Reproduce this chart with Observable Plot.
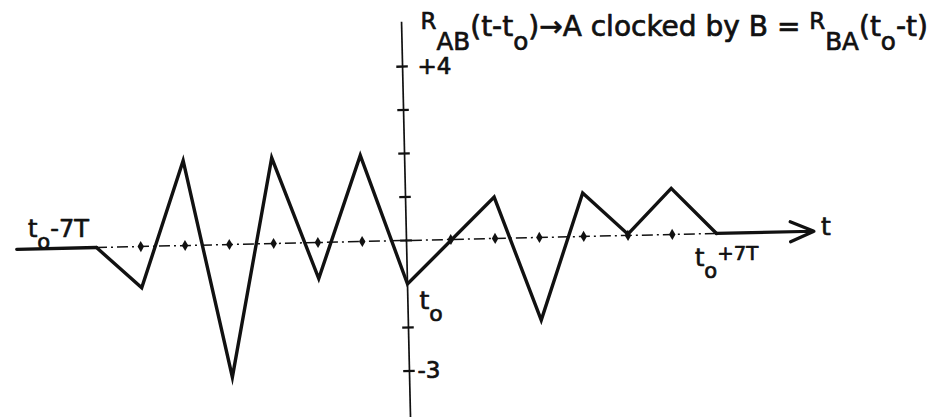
<!DOCTYPE html>
<html>
<head>
<meta charset="utf-8">
<script src="https://cdn.jsdelivr.net/npm/d3@7"></script>
<script src="https://cdn.jsdelivr.net/npm/@observablehq/plot@0.6"></script>
<style>
  html, body { margin: 0; padding: 0; background: #fff; }
  #chart svg { display: block; }
</style>
</head>
<body>
<div id="chart"></div>
<script>
// ---- data (lags in units of T relative to t_o, correlation values) ----
const lags = [-7, -6, -5, -4, -3, -2, -1, 0, 2, 3, 4, 5, 6, 7];
const corr = [0, -0.95, 1.95, -3.05, 1.97, -0.83, 1.98, -1.0, 0.95, -1.9, 1.0, 0.03, 1.06, 0];
const lagTicks = [-6, -5, -4, -3, -2, -1, 1, 2, 3, 4, 5, 6];
const valueTicks = [4, 3, 2, 1, 0, -2, -3];
const valueLabelValues = [4, -3];
const valueLabelTexts = ["+4", "-3"];
const lagExtent = [-8.8, 9.2];
const titleText = "^{R}_{AB}(t-t_{o})→A clocked by B = ^{R}_{BA}(t_{o}-t)";
const lagStartLabel = "t_{o}-7T";
const lagEndLabel = "t_{o}^{+7T}";
const originLabel = "t_{o}";
const axisName = "t";

const textStyle = { fill: "#111", stroke: "#111", strokeWidth: 0.7 };

const plot = Plot.plot({
  width: 946,
  height: 417,
  marginTop: 0, marginRight: 0, marginBottom: 0, marginLeft: 0,
  x: { domain: [-406 / 44.3, 540 / 44.3], axis: null },
  y: { domain: [-(417 - 240) / 43.5, 240 / 43.5], axis: null },
  style: { background: "#fff", color: "#111", fontFamily: "DejaVu Sans, sans-serif", overflow: "visible" },
  marks: [
    // vertical axis
    Plot.ruleX([0], { y1: -4.3, y2: 5.02, stroke: "#111", strokeWidth: 1.7 }),
    Plot.ruleY(valueTicks, { x1: -0.13, x2: 0.13, stroke: "#111", strokeWidth: 2.4 }),
    // horizontal dash-dot axis
    Plot.ruleY([0], { x1: lags[0], x2: lags[lags.length - 1], stroke: "#111", strokeWidth: 1.5, strokeDasharray: "11,4,2,4" }),
    Plot.dot(lagTicks, { x: d => d, y: 0, symbol: "diamond", r: 3.4, fill: "#111", stroke: null }),
    // axis extensions
    Plot.line([[lagExtent[0], 0], [lags[0], 0]], { stroke: "#111", strokeWidth: 3.4 }),
    Plot.arrow([0], { x1: lags[lags.length - 1], x2: lagExtent[1], y1: 0, y2: 0, stroke: "#111", strokeWidth: 3.2, headLength: 12, headAngle: 46 }),
    // correlation line
    Plot.line(lags, { x: lags, y: corr, stroke: "#111", strokeWidth: 3.4, strokeLinejoin: "miter", strokeMiterlimit: 10 }),
    // texts
    Plot.text([titleText], { x: 0, frameAnchor: "top", text: d => d, textAnchor: "start", lineAnchor: "bottom", dx: 14, dy: 35, fontSize: 28, ...textStyle }),
    Plot.text(valueLabelValues, { x: 0, y: d => d, text: valueLabelTexts, textAnchor: "start", lineAnchor: "middle", dx: 11, fontSize: 23, ...textStyle }),
    Plot.text([lagStartLabel], { x: lags[0], y: 0, text: d => d, textAnchor: "middle", lineAnchor: "bottom", dx: -38, dy: -4, fontSize: 24, ...textStyle }),
    Plot.text([lagEndLabel], { x: lags[lags.length - 1], y: 0, text: d => d, textAnchor: "middle", lineAnchor: "bottom", dx: 10, dy: 25, fontSize: 24, ...textStyle }),
    Plot.text([originLabel], { x: 0, y: 0, text: d => d, textAnchor: "start", lineAnchor: "bottom", dx: 13, dy: 68, fontSize: 25, ...textStyle }),
    Plot.text([axisName], { x: lagExtent[1], y: 0, text: d => d, textAnchor: "start", lineAnchor: "bottom", dx: 7, dy: -6, fontSize: 25, ...textStyle })
  ]
});

document.getElementById("chart").appendChild(plot);

// ---- rich text: _{..} subscript, ^{..} raised ----
const NS = "http://www.w3.org/2000/svg";
plot.querySelectorAll('g[aria-label="text"]').forEach(g => {
  const fs = parseFloat(g.getAttribute("font-size")) || 24;
  g.querySelectorAll("text").forEach(t => {
    const s = t.textContent;
    if (!/[_^]\{/.test(s)) return;
    const re = /([_^])\{([^}]*)\}|([^_^]+)/g;
    let m, cur = 0;
    t.textContent = "";
    while ((m = re.exec(s))) {
      const span = document.createElementNS(NS, "tspan");
      let off = 0, size = fs;
      if (m[1] === "_") { off = 0.5 * fs; size = 0.88 * fs; span.textContent = m[2]; }
      else if (m[1] === "^") { off = -0.22 * fs; size = 0.82 * fs; span.textContent = m[2]; }
      else { span.textContent = m[3]; }
      span.setAttribute("dy", (off - cur).toFixed(2));
      span.setAttribute("font-size", size.toFixed(2));
      cur = off;
      t.appendChild(span);
    }
  });
});

// ---- slight tilt of the drawn figure (as in the scanned original) ----
const cx = plot.scale("x").apply(0), cy = plot.scale("y").apply(0);
const rot = document.createElementNS(NS, "g");
rot.setAttribute("transform", `rotate(-1.3 ${cx} ${cy})`);
const geo = [...plot.children].filter(el => el.tagName.toLowerCase() === "g" && el.getAttribute("aria-label") !== "text");
if (geo.length) {
  plot.insertBefore(rot, geo[0]);
  geo.forEach(el => rot.appendChild(el));
}
</script>
</body>
</html>
